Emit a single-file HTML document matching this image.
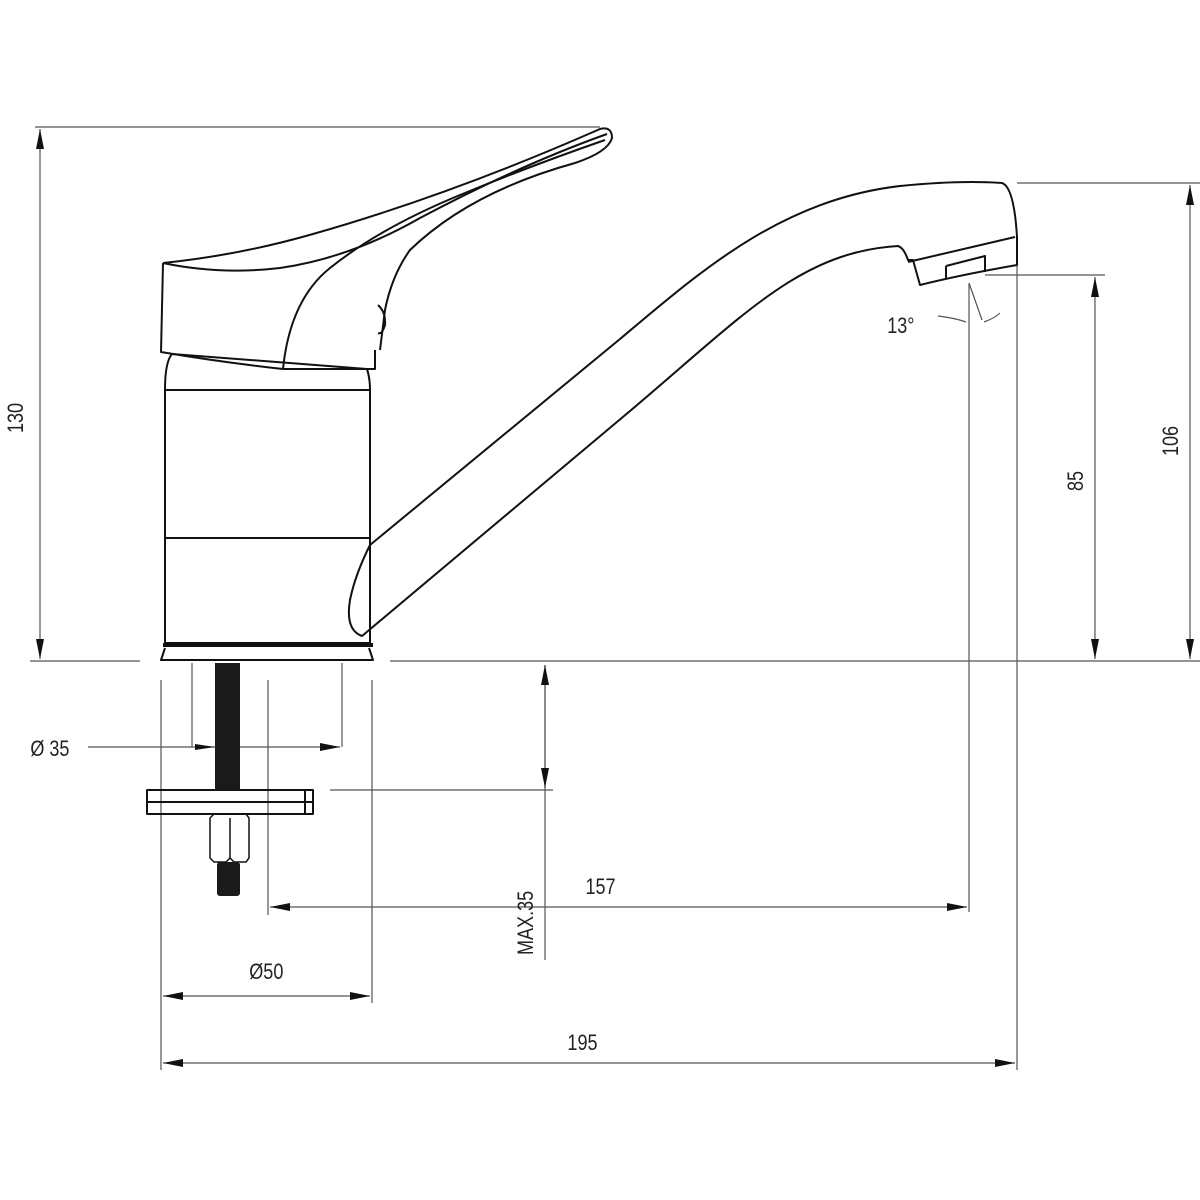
<!DOCTYPE html>
<html><head><meta charset="utf-8"><style>html,body{margin:0;padding:0;background:#fff}svg{display:block}text{font-family:"Liberation Sans",sans-serif;font-size:22px;fill:#222}</style></head><body>
<svg width="1200" height="1200" viewBox="0 0 1200 1200" xmlns="http://www.w3.org/2000/svg">
<defs>
<marker id="a" viewBox="0 0 20 8" refX="20" refY="4" markerWidth="20" markerHeight="8" orient="auto-start-reverse" markerUnits="userSpaceOnUse"><path d="M0,0 L20,4 L0,8 Z" fill="#111"/></marker>
</defs>
<g fill="none" stroke="#555" stroke-width="1.2">
<line x1="35" y1="127" x2="600" y2="127"/>
<line x1="30" y1="661" x2="140" y2="661"/>
<line x1="40" y1="129" x2="40" y2="659" marker-start="url(#a)" marker-end="url(#a)"/>
<line x1="390" y1="661" x2="1200" y2="661"/>
<line x1="1017" y1="183" x2="1200" y2="183"/>
<line x1="1190" y1="185" x2="1190" y2="659" marker-start="url(#a)" marker-end="url(#a)"/>
<line x1="985" y1="275" x2="1105" y2="275"/>
<line x1="1095" y1="277" x2="1095" y2="659" marker-start="url(#a)" marker-end="url(#a)"/>
<line x1="969" y1="283" x2="969" y2="912"/>
<line x1="1017" y1="265" x2="1017" y2="1070"/>
<line x1="161" y1="680" x2="161" y2="1070"/>
<line x1="372" y1="680" x2="372" y2="1003"/>
<line x1="268" y1="680" x2="268" y2="915"/>
<line x1="545" y1="665" x2="545" y2="960"/>
<line x1="545" y1="665" x2="545" y2="788" marker-start="url(#a)" marker-end="url(#a)"/>
<line x1="330" y1="790" x2="553" y2="790"/>
<line x1="192" y1="663" x2="192" y2="747"/>
<line x1="342" y1="663" x2="342" y2="747"/>
<line x1="88" y1="747" x2="215" y2="747"/>
<line x1="240" y1="747" x2="340" y2="747" marker-end="url(#a)"/>
<path d="M215,747 L195,744 L195,750 Z" fill="#111" stroke="none"/>
<line x1="270" y1="907" x2="967" y2="907" marker-start="url(#a)" marker-end="url(#a)"/>
<line x1="163" y1="996" x2="370" y2="996" marker-start="url(#a)" marker-end="url(#a)"/>
<line x1="163" y1="1063" x2="1015" y2="1063" marker-start="url(#a)" marker-end="url(#a)"/>
<line x1="969" y1="283" x2="982" y2="320"/>
<path d="M938,316 Q955,318 966,322"/>
<path d="M984,322 Q995,318 1000,313"/>
</g>
<g fill="none" stroke="#111" stroke-width="2" stroke-linejoin="round">
<path d="M163,263 L161,352 Q220,362 283,369 L375,369 L375,350"/>
<path d="M163,263 Q240,255 313,234 Q450,195 600,129 Q612,126 612,138 Q608,152 575,163 Q470,192 410,250 Q392,275 385,310 L380,350"/>
<path d="M163,263 Q220,275 280,268 Q350,258 420,218 Q520,165 607,134"/>
<path d="M283,369 Q290,300 330,268 Q380,228 460,195 Q530,166 605,140"/>
<path d="M378,305 Q386,312 385,325 Q382,335 378,333"/>
<path d="M165,390 Q165,362 172,354 L367,369 Q370,378 370,390"/>
<rect x="165" y="390" width="205" height="253"/>
<line x1="165" y1="538" x2="370" y2="538"/>
<path d="M163,645 L373,645" stroke-width="4"/>
<path d="M165,648 L161,660 L373,660 L369,648"/>
<path d="M370,545 L620,339 C700,272 780,200 900,186 Q960,180 1002,183 Q1014,187 1017,237 L1017,265 Q960,275 920,285 L913,260 L908,260 Q904,248 898,246 C800,252 745,314 630,411 L362,636 Q345,630 350,600 Q355,575 370,545"/>
<path d="M908,262 L1015,237"/>
<path d="M946,266 L946,279 M946,266 L985,256 L985,272"/>
<rect x="147" y="790" width="166" height="24"/>
<line x1="147" y1="802" x2="313" y2="802"/>
<line x1="305" y1="790" x2="305" y2="814"/>
<path d="M214,814 L210,818 L210,858 L214,862 L226,862 L230,858 L234,862 L246,862 L249,858 L249,818 L246,814 Z" stroke-width="1.5"/>
<line x1="230" y1="818" x2="230" y2="858" stroke-width="1.5"/>
</g>
<rect x="215" y="663" width="25" height="127" fill="#1a1a1a"/>
<rect x="217" y="862" width="23" height="34" rx="3" fill="#1a1a1a"/>
<g transform="scale(0.82,1)">
<text x="1082" y="333">13°</text>
<text x="714" y="894">157</text>
<text x="304" y="979">Ø50</text>
<text x="692" y="1050">195</text>
<text x="37" y="756">Ø 35</text>
</g>
<text transform="translate(23,433) rotate(-90) scale(0.82,1)">130</text>
<text transform="translate(1178,456) rotate(-90) scale(0.82,1)">106</text>
<text transform="translate(1083,491) rotate(-90) scale(0.82,1)">85</text>
<text transform="translate(533,955) rotate(-90) scale(0.82,1)">MAX.35</text>
</svg>
</body></html>
